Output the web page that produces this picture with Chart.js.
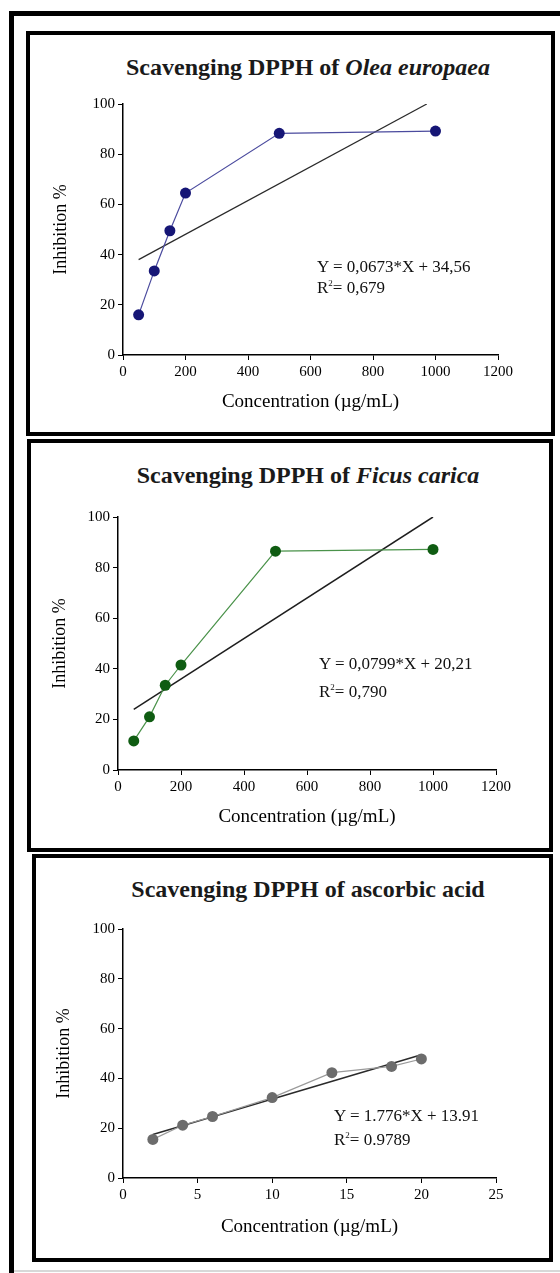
<!DOCTYPE html>
<html>
<head>
<meta charset="utf-8">
<script src="https://cdn.jsdelivr.net/npm/chart.js@4.4.1/dist/chart.umd.min.js"></script>
<style>
  body { margin: 0; background: #fff; }
  #page { position: relative; width: 560px; height: 1273px; overflow: hidden; font-family: 'Liberation Serif', 'Times New Roman', serif; color: #111; }
  .frame { position: absolute; left: 9px; top: 11px; width: 600px; height: 1300px; border-left: 5px solid #000; border-top: 5px solid #000; }
  .bottomline { position: absolute; left: 14px; top: 1270px; width: 560px; height: 2px; background: #d8d8d8; }
  .panel { position: absolute; border: 4px solid #000; box-sizing: border-box; }
  .chartbox { position: absolute; left: 0; width: 560px; }
  .title { position: absolute; left: 308px; transform: translateX(-50%); white-space: nowrap; font-weight: bold; font-size: 24px; line-height: 1; color: #1a1a1a; }
  .eq { position: absolute; font-size: 17px; line-height: 1; white-space: nowrap; color: #111; }
  .eq sup { font-size: 9px; vertical-align: 7px; line-height: 0; }
</style>
</head>
<body>
<div id="page">
  <div class="frame"></div>
  <div class="bottomline"></div>

  <div class="panel" style="left:26px; top:31px; width:529px; height:405px;"></div>
  <div class="panel" style="left:27px; top:439px; width:526px; height:413px;"></div>
  <div class="panel" style="left:32px; top:854px; width:521px; height:408px;"></div>

  <div class="title" style="top:55px;">Scavenging DPPH of <i>Olea europaea</i></div>
  <div class="title" style="top:463px;">Scavenging DPPH of <i>Ficus carica</i></div>
  <div class="title" style="top:877px;">Scavenging DPPH of ascorbic acid</div>

  <div class="chartbox" style="top:31px; height:405px;"><canvas id="chartOlea" width="560" height="405"></canvas></div>
  <div class="chartbox" style="top:439px; height:413px;"><canvas id="chartFicus" width="560" height="413"></canvas></div>
  <div class="chartbox" style="top:854px; height:408px;"><canvas id="chartAscorbic" width="560" height="408"></canvas></div>

  <div class="eq" style="left:317px; top:258px;">Y = 0,0673*X + 34,56</div>
  <div class="eq" style="left:317px; top:279px;">R<sup>2</sup>= 0,679</div>
  <div class="eq" style="left:319px; top:655px;">Y = 0,0799*X + 20,21</div>
  <div class="eq" style="left:319px; top:683px;">R<sup>2</sup>= 0,790</div>
  <div class="eq" style="left:334px; top:1107px;">Y = 1.776*X + 13.91</div>
  <div class="eq" style="left:334px; top:1131px;">R<sup>2</sup>= 0.9789</div>
</div>

<script>
// values
const oleaX = [50, 100, 150, 200, 500, 1000];
const oleaY = [16, 33.5, 49.5, 64.5, 88.3, 89.2];
const oleaTrendX = [50, 972];
const oleaTrendY = [38, 100];

const ficusX = [50, 100, 150, 200, 500, 1000];
const ficusY = [11.5, 21, 33.5, 41.5, 86.5, 87.2];
const ficusTrendX = [50, 1000];
const ficusTrendY = [24, 100];

const ascorbicX = [2, 4, 6, 10, 14, 18, 20];
const ascorbicY = [15.5, 21.2, 24.7, 32.3, 42.3, 44.8, 47.8];
const ascorbicTrendX = [2, 20];
const ascorbicTrendY = [17.5, 49.5];

const concTicks = [0, 200, 400, 600, 800, 1000, 1200];
const ascorbicTicks = [0, 5, 10, 15, 20, 25];
const inhibitionTicks = [0, 20, 40, 60, 80, 100];

const SERIF = "'Liberation Serif', 'Times New Roman', serif";

function toPoints(xs, ys) {
    return xs.map((x, i) => ({ x: x, y: ys[i] }));
}

// one axis, ticks pinned to the given values, size forced so plot areas line up
function axis(tickValues, label, size, horizontal) {
    return {
        type: 'linear',
        min: tickValues[0],
        max: tickValues[tickValues.length - 1],
        afterBuildTicks: s => { s.ticks = tickValues.map(v => ({ value: v })); },
        afterFit: s => {
            if (horizontal) {
                s.height = size;
                s.paddingLeft = 0;
                s.paddingRight = 0;
            } else {
                s.width = size;
                s.paddingTop = 0;
                s.paddingBottom = 0;
            }
        },
        grid: { drawOnChartArea: false, drawTicks: true, tickLength: 5, color: '#000', lineWidth: 1 },
        border: { display: true, color: '#000', width: 1.5 },
        ticks: {
            color: '#000',
            padding: 3,
            font: { family: SERIF, size: 15 },
            callback: v => String(v)
        },
        title: {
            display: true,
            text: label,
            color: '#000',
            padding: 0,
            font: { family: SERIF, size: horizontal ? 19 : 18 }
        }
    };
}

function drawPanel(id, xs, ys, trendXs, trendYs, xTicks, look) {
    const ctx = document.getElementById(id);
    return new Chart(ctx, {
        type: 'scatter',
        data: {
            datasets: [
                {
                    data: toPoints(xs, ys),
                    showLine: true,
                    borderColor: look.line,
                    borderWidth: 1.2,
                    pointRadius: 5.5,
                    pointBackgroundColor: look.marker,
                    pointBorderColor: look.marker,
                    pointBorderWidth: 0
                },
                {
                    data: toPoints(trendXs, trendYs),
                    showLine: true,
                    borderColor: look.trend,
                    borderWidth: look.trendWidth,
                    pointRadius: 0
                }
            ]
        },
        options: {
            responsive: false,
            animation: false,
            layout: { padding: look.pad },
            plugins: {
                legend: { display: false },
                tooltip: { enabled: false }
            },
            scales: {
                x: axis(xTicks, 'Concentration (µg/mL)', look.xH, true),
                y: axis(inhibitionTicks, 'Inhibition %', look.yW, false)
            }
        }
    });
}

drawPanel('chartOlea', oleaX, oleaY, oleaTrendX, oleaTrendY, concTicks, {
    line: '#4b4b9e', marker: '#161676', trend: '#2a2a2a', trendWidth: 1.2,
    pad: { left: 50, right: 62, top: 73, bottom: 23 }, yW: 73, xH: 58
});

drawPanel('chartFicus', ficusX, ficusY, ficusTrendX, ficusTrendY, concTicks, {
    line: '#4a924a', marker: '#0f5c12', trend: '#1e1e1e', trendWidth: 1.5,
    pad: { left: 49, right: 64, top: 78, bottom: 24 }, yW: 69, xH: 58
});

drawPanel('chartAscorbic', ascorbicX, ascorbicY, ascorbicTrendX, ascorbicTrendY, ascorbicTicks, {
    line: '#9a9a9a', marker: '#6c6c6c', trend: '#2a2a2a', trendWidth: 1.5,
    pad: { left: 53, right: 64, top: 75, bottom: 24 }, yW: 70, xH: 60
});
</script>
</body>
</html>
